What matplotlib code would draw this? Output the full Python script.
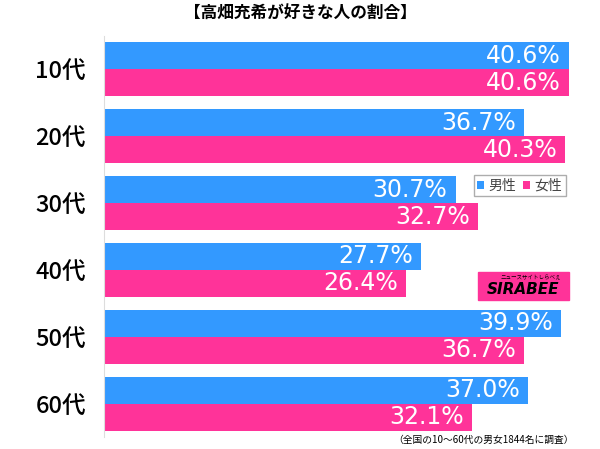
import matplotlib.pyplot as plt
import numpy as np
from matplotlib.patches import Rectangle

plt.rcParams['font.family'] = ['Noto Sans CJK JP', 'DejaVu Sans']

# データ
ages = ["10代", "20代", "30代", "40代", "50代", "60代"]
male = [40.6, 36.7, 30.7, 27.7, 39.9, 37.0]
female = [40.6, 40.3, 32.7, 26.4, 36.7, 32.1]

blue = "#3399FF"
pink = "#FF3399"

fig = plt.figure(figsize=(6, 4.49), dpi=100)
ax = fig.add_axes([104/600, 12/449, 496/600, 401/449])

y = np.arange(len(ages))
h = 0.405
ax.barh(y - h/2, male, height=h, color=blue, label="男性")
ax.barh(y + h/2, female, height=h, color=pink, label="女性")

for i in range(len(ages)):
    ax.text(male[i] - 0.7, y[i] - h/2, f"{male[i]:.1f}%", color="white",
            ha="right", va="center", fontsize=17, family="DejaVu Sans")
    ax.text(female[i] - 0.7, y[i] + h/2, f"{female[i]:.1f}%", color="white",
            ha="right", va="center", fontsize=17, family="DejaVu Sans")

ax.set_xlim(0, 496/11.45)
ax.set_ylim(5.5, -0.5)
ax.set_yticks(y)
ax.set_yticklabels(ages, fontsize=17, fontweight="medium")
ax.tick_params(axis="y", length=0, pad=13)
ax.set_xticks([])
for s in ["top", "right", "bottom"]:
    ax.spines[s].set_visible(False)
ax.spines["left"].set_color("#dddddd")

leg = ax.legend(loc="upper left", bbox_to_anchor=(370/496, 1 - (175-36)/401),
                ncol=2, fontsize=10, frameon=True, fancybox=False,
                handlelength=0.5, handleheight=0.5, handletextpad=0.3,
                columnspacing=0.5, borderpad=0.25, borderaxespad=0,
                labelcolor="#444444")
leg.get_frame().set_edgecolor("#999999")
leg.get_frame().set_linewidth(1)

# ロゴ
fig.patches.append(Rectangle((478/600, 1 - 300/449), 91/600, 28/449,
                             transform=fig.transFigure, color=pink))
fig.text(523/600, 1 - 290/449, "SIRABEE", fontsize=11, fontweight="bold",
         style="italic", ha="center", va="center", color="black",
         family="DejaVu Sans")
fig.text(531/600, 1 - 278/449, "ニュースサイトしらべぇ", fontsize=4,
         ha="center", va="center", color="black")

fig.text(0.5, 1 - 14/449, "【高畑充希が好きな人の割合】", fontsize=12,
         fontweight="bold", ha="center", va="center")
fig.text(574/600, 1 - 440/449, "（全国の10～60代の男女1844名に調査）", fontsize=7,
         ha="right", va="center")

fig.savefig("out.png", dpi=100)
